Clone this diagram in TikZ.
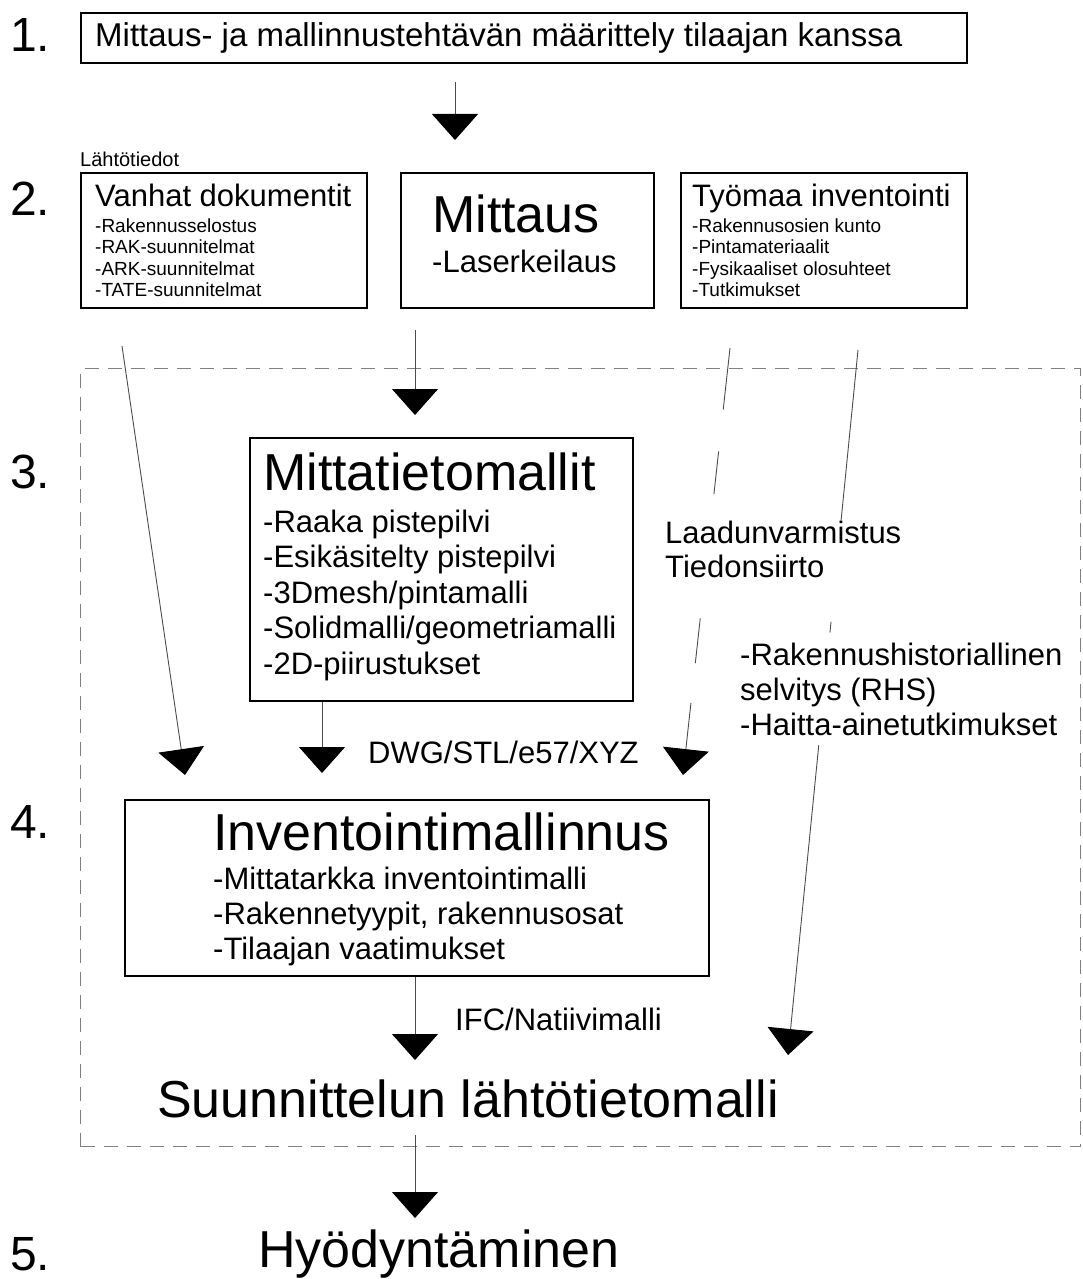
\documentclass[tikz,border=0pt]{standalone}
\usepackage{fontspec}
\setmainfont{Liberation Sans}
\usetikzlibrary{arrows.meta}
\tikzset{
  box/.style={draw=black, line width=2.2pt, inner sep=0pt, anchor=north west},
  region/.style={draw=black!50, line width=1.4pt, dash pattern=on 14pt off 9pt, inner sep=0pt, anchor=north west},
  txt/.style={inner sep=0pt, anchor=base west, font=\fontsize{31}{36}\selectfont},
  bigtxt/.style={inner sep=0pt, anchor=base west, font=\fontsize{52}{60}\selectfont},
  midtxt/.style={inner sep=0pt, anchor=base west, font=\fontsize{33}{38}\selectfont},
  smalltxt/.style={inner sep=0pt, anchor=base west, font=\fontsize{19}{22}\selectfont},
  labeltxt/.style={inner sep=0pt, anchor=base west, font=\fontsize{20}{24}\selectfont},
  numtxt/.style={inner sep=0pt, anchor=base west, font=\fontsize{48}{56}\selectfont},
  arr/.style={draw=black!70, line width=0.9pt, -{Triangle[width=46pt,length=26pt,color=black]}}
}
\begin{document}
\begin{tikzpicture}[x=1pt,y=-1pt]
\useasboundingbox (0,0) rectangle (1082,1279);

% dashed region
\node[region, minimum width=1000pt, minimum height=778pt] (reg) at (80,368) {};

% boxes
\node[box, minimum width=886pt, minimum height=50pt] (b1) at (80,12) {};
\node[box, minimum width=286pt, minimum height=135pt] (vanhat) at (80,172) {};
\node[box, minimum width=253pt, minimum height=135pt] (mittaus) at (400,172) {};
\node[box, minimum width=286pt, minimum height=135pt] (tyomaa) at (680,172) {};
\node[box, minimum width=383pt, minimum height=263pt] (mtm) at (249,437) {};
\node[box, minimum width=584pt, minimum height=176pt] (inv) at (124,799) {};

% connector end points
\coordinate (a1s) at (455,82);   \coordinate (a1e) at (455,140);
\coordinate (a2s) at (122,346);  \coordinate (a2e) at (185,775);
\coordinate (a3s) at (415,330);  \coordinate (a3e) at (415,415);
\coordinate (a4s) at (730,348);  \coordinate (a4e) at (683,775);
\coordinate (a5s) at (858,350);  \coordinate (a5e) at (788,1055);
\coordinate (a6e) at (322,773);
\coordinate (a7e) at (415,1060);
\coordinate (a8s) at (415,1135); \coordinate (a8e) at (415,1218);

% connectors
\draw[arr] (a1s) -- (a1e);
\draw[arr] (a2s) -- (a2e);
\draw[arr] (a3s) -- (a3e);
\draw[arr, dash pattern=on 62pt off 42pt on 43pt off 125pt on 45pt off 40pt on 200pt] (a4s) -- (a4e);
\draw[arr, dash pattern=on 171pt off 102pt on 11pt off 113pt on 400pt] (a5s) -- (a5e);
\draw[arr] (mtm.south -| a6e) -- (a6e);
\draw[arr] (inv.south -| a7e) -- (a7e);
\draw[arr] (a8s) -- (a8e);

% step numbers
\node[numtxt] (n1) at (10,52) {1.};
\node[numtxt] (n2) at (10,215) {2.};
\node[numtxt] (n3) at (10,488) {3.};
\node[numtxt] (n4) at (10,838) {4.};
\node[numtxt] (n5) at (10,1270) {5.};

% texts
\node[midtxt] (t1) at (95,47) {Mittaus- ja mallinnustehtävän määrittely tilaajan kanssa};
\node[labeltxt] (lt) at (80,166) {Lähtötiedot};

\node[txt] (vt) at (95,206) {Vanhat dokumentit};
\foreach \t [count=\i] in {-Rakennusselostus,-RAK-suunnitelmat,-ARK-suunnitelmat,-TATE-suunnitelmat}
  \node[smalltxt] (vi\i) at (95,210.5+21.5*\i) {\t};

\node[bigtxt] (mt) at (432,232) {Mittaus};
\node[txt] (ml) at (432,272) {-Laserkeilaus};

\node[txt] (tt) at (692,206) {Työmaa inventointi};
\foreach \t [count=\i] in {-Rakennusosien kunto,-Pintamateriaalit,-Fysikaaliset olosuhteet,-Tutkimukset}
  \node[smalltxt] (ti\i) at (692,210.5+21.5*\i) {\t};

\node[bigtxt] (mtt) at (263,490) {Mittatietomallit};
\foreach \t [count=\i] in {-Raaka pistepilvi,-Esikäsitelty pistepilvi,-3Dmesh/pintamalli,-Solidmalli/geometriamalli,-2D-piirustukset}
  \node[txt] (mi\i) at (263,496.5+35.5*\i) {\t};

\node[txt] (lv) at (665,543) {Laadunvarmistus};
\node[txt] (ts) at (665,577) {Tiedonsiirto};

\node[txt] (r1) at (740,665) {-Rakennushistoriallinen};
\node[txt] (r2) at (740,700) {selvitys (RHS)};
\node[txt] (r3) at (740,735) {-Haitta-ainetutkimukset};

\node[txt] (dwg) at (368,763) {DWG/STL/e57/XYZ};

\node[bigtxt] (it) at (213,850) {Inventointimallinnus};
\foreach \t [count=\i] in {-Mittatarkka inventointimalli,{-Rakennetyypit, rakennusosat},-Tilaajan vaatimukset}
  \node[txt] (ii\i) at (213,854+35*\i) {\t};

\node[txt] (ifc) at (455,1030) {IFC/Natiivimalli};
\node[bigtxt] (sl) at (157,1117) {Suunnittelun lähtötietomalli};
\node[bigtxt] (hy) at (258,1267) {Hyödyntäminen};
\end{tikzpicture}
\end{document}
